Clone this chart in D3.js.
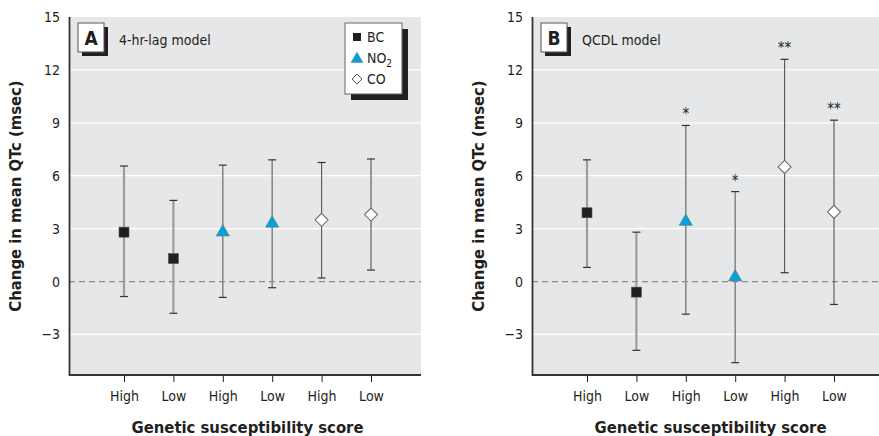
<!DOCTYPE html>
<html>
<head>
<meta charset="utf-8">
<script src="https://cdn.jsdelivr.net/npm/d3@7.9.0/dist/d3.min.js"></script>
<style>
  body { margin: 0; background: #fff; }
  svg { display: block; }
  text { font-family: "Liberation Sans Narrow", "DejaVu Sans Condensed", "Roboto", sans-serif; fill: #231f20; }
</style>
</head>
<body>
<svg id="chart" width="879" height="436"></svg>
<script>
// categories along the x axis
const categories = ['High', 'Low', 'High', 'Low', 'High', 'Low'];
const pollutants = ['BC', 'BC', 'NO2', 'NO2', 'CO', 'CO'];
const yTicks = [-3, 0, 3, 6, 9, 12, 15];

// panel A: 4-hr-lag model
const lagEst = [2.8, 1.3, 2.8, 3.3, 3.5, 3.8];
const lagLow = [-0.85, -1.8, -0.9, -0.35, 0.2, 0.65];
const lagHigh = [6.55, 4.6, 6.6, 6.9, 6.75, 6.95];
const lagStars = ['', '', '', '', '', ''];

// panel B: QCDL model
const qcdlEst = [3.9, -0.6, 3.4, 0.25, 6.5, 3.95];
const qcdlLow = [0.8, -3.9, -1.85, -4.6, 0.5, -1.3];
const qcdlHigh = [6.9, 2.8, 8.85, 5.1, 12.6, 9.15];
const qcdlStars = ['', '', '*', '*', '**', '**'];

const legendItems = ['BC', 'NO2', 'CO'];

const svg = d3.select('#chart');
const plotW = 352, plotTop = 17, plotBottom = 375;

const y = d3.scaleLinear().domain([-5.3, 15]).range([plotBottom, plotTop]);
const x = d3.scalePoint().domain(d3.range(categories.length)).range([55, 302]);

const barStyle = {
  BC: { stroke: '#9d9d9d', width: 2.2 },
  NO2: { stroke: '#8a8a8a', width: 1.6 },
  CO: { stroke: '#555', width: 1.1 },
};

function drawMarker(g, type, cx, cy) {
  if (type === 'BC') {
    g.append('rect').attr('x', cx - 5).attr('y', cy - 5).attr('width', 10).attr('height', 10)
      .attr('fill', '#231f20').attr('stroke', '#555').attr('stroke-width', 0.6);
  } else if (type === 'NO2') {
    g.append('path')
      .attr('d', d3.symbol().type(d3.symbolTriangle).size(75)())
      .attr('transform', `translate(${cx},${cy})`)
      .attr('fill', '#00a3e0').attr('stroke', '#777').attr('stroke-width', 0.7);
  } else {
    g.append('path')
      .attr('d', `M0,-6.5L6.5,0L0,6.5L-6.5,0Z`)
      .attr('transform', `translate(${cx},${cy})`)
      .attr('fill', '#fff').attr('stroke', '#6d6d6d').attr('stroke-width', 1.1);
  }
}

function drawPanel(left, labelX, letter, title, est, lo, hi, stars, withLegend) {
  const g = svg.append('g').attr('transform', `translate(${left},0)`);

  g.append('rect').attr('x', 0).attr('y', plotTop).attr('width', plotW)
    .attr('height', plotBottom - plotTop).attr('fill', '#e6e7e8');

  g.selectAll('.grid').data(yTicks.filter(d => d !== 0 && d !== 15)).join('line')
    .attr('x1', 0).attr('x2', plotW)
    .attr('y1', d => y(d)).attr('y2', d => y(d))
    .attr('stroke', '#fff').attr('stroke-width', 1.2);

  g.append('line').attr('x1', 0).attr('x2', plotW).attr('y1', y(0)).attr('y2', y(0))
    .attr('stroke', '#8c8c8c').attr('stroke-width', 1.2).attr('stroke-dasharray', '6,4');

  // y axis
  const yAxis = d3.axisLeft(y).tickValues(yTicks).tickSize(0).tickPadding(9)
    .tickFormat(d => d < 0 ? '\u2212' + Math.abs(d) : d);
  const ya = g.append('g').call(yAxis);
  ya.select('.domain').remove();
  ya.selectAll('text').attr('font-size', 14).attr('fill', '#231f20');

  // x axis
  const xAxis = d3.axisBottom(x).tickSize(7).tickPadding(9).tickFormat(i => categories[i]);
  const xa = g.append('g').attr('transform', `translate(0,${plotBottom})`).call(xAxis);
  xa.select('.domain').remove();
  xa.selectAll('.tick line').attr('stroke', '#231f20').attr('stroke-width', 1);
  xa.selectAll('text').attr('font-size', 14).attr('fill', '#231f20');

  g.append('path').attr('d', `M0.5,${plotTop}V${plotBottom}H${plotW}`)
    .attr('fill', 'none').attr('stroke', '#333').attr('stroke-width', 1.8);

  // error bars
  est.forEach((v, i) => {
    const cx = x(i), p = pollutants[i], s = barStyle[p];
    g.append('line').attr('x1', cx).attr('x2', cx).attr('y1', y(hi[i])).attr('y2', y(lo[i]))
      .attr('stroke', s.stroke).attr('stroke-width', s.width);
    [hi[i], lo[i]].forEach(c => {
      g.append('line').attr('x1', cx - 4).attr('x2', cx + 4).attr('y1', y(c)).attr('y2', y(c))
        .attr('stroke', '#333').attr('stroke-width', 1.2);
    });
    if (stars[i]) {
      g.append('text').attr('x', cx).attr('y', y(hi[i]) - 6).attr('text-anchor', 'middle')
        .attr('font-size', 15).attr('fill', '#666').text(stars[i]);
    }
    drawMarker(g, p, cx, y(v));
  });

  // panel label
  g.append('rect').attr('x', 13).attr('y', 27).attr('width', 26).attr('height', 29).attr('fill', '#231f20');
  g.append('rect').attr('x', 9).attr('y', 23).attr('width', 26).attr('height', 29)
    .attr('fill', '#fff').attr('stroke', '#555').attr('stroke-width', 1);
  g.append('text').attr('x', 22).attr('y', 45).attr('text-anchor', 'middle')
    .attr('font-size', 19).attr('font-weight', 'bold').text(letter);
  g.append('text').attr('x', 50).attr('y', 45).attr('font-size', 14).text(title);

  if (withLegend) {
    const lx = 276, ly = 23, lw = 57, lh = 71;
    g.append('rect').attr('x', lx + 6).attr('y', ly + 6).attr('width', lw).attr('height', lh).attr('fill', '#231f20');
    g.append('rect').attr('x', lx).attr('y', ly).attr('width', lw).attr('height', lh)
      .attr('fill', '#fff').attr('stroke', '#666').attr('stroke-width', 1);
    legendItems.forEach((k, j) => {
      const cy = ly + 14 + j * 21;
      const lg = g.append('g');
      if (k === 'BC') {
        lg.append('rect').attr('x', lx + 8).attr('y', cy - 4).attr('width', 8).attr('height', 8).attr('fill', '#231f20');
      } else if (k === 'NO2') {
        lg.append('path').attr('d', d3.symbol().type(d3.symbolTriangle).size(60)())
          .attr('transform', `translate(${lx + 12},${cy + 1})`).attr('fill', '#00a3e0').attr('stroke', '#777').attr('stroke-width', 0.6);
      } else {
        lg.append('path').attr('d', 'M0,-5L5,0L0,5L-5,0Z').attr('transform', `translate(${lx + 12},${cy})`)
          .attr('fill', '#fff').attr('stroke', '#555').attr('stroke-width', 1);
      }
      const t = lg.append('text').attr('x', lx + 22).attr('y', cy + 5).attr('font-size', 14);
      if (k === 'NO2') {
        t.append('tspan').text('NO');
        t.append('tspan').attr('font-size', 10).attr('dy', 4).text('2');
      } else {
        t.text(k);
      }
    });
  }

  // axis titles
  svg.append('text').attr('transform', `translate(${labelX},${(plotTop + plotBottom) / 2}) rotate(-90)`)
    .attr('text-anchor', 'middle').attr('font-size', 16.5).attr('font-weight', 'bold')
    .text('Change in mean QTc (msec)');
  svg.append('text').attr('x', left + (x(0) + x(5)) / 2).attr('y', 433).attr('text-anchor', 'middle')
    .attr('font-size', 16.5).attr('font-weight', 'bold').text('Genetic susceptibility score');
}

drawPanel(69, 21, 'A', '4-hr-lag model', lagEst, lagLow, lagHigh, lagStars, true);
drawPanel(532, 484, 'B', 'QCDL model', qcdlEst, qcdlLow, qcdlHigh, qcdlStars, false);
</script>
</body>
</html>
